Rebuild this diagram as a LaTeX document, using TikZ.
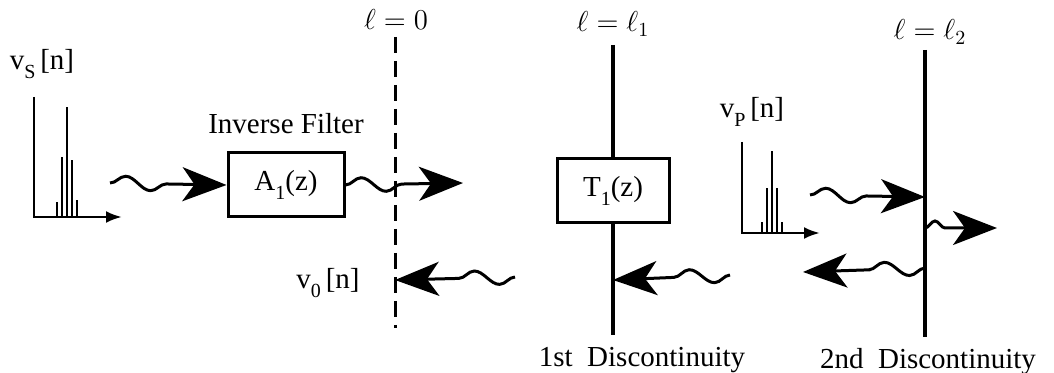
\documentclass[tikz,border=0pt]{standalone}
\usepackage{fontspec}
\setmainfont{Liberation Serif}
\usetikzlibrary{arrows.meta, positioning, decorations.pathmorphing}
\newcommand{\sig}[1]{v\raisebox{-0.7ex}{\normalsize #1}\,[n]}

\begin{document}
\begin{tikzpicture}[x=0.5pt, y=-0.5pt,
      every node/.style={font=\fontsize{14.5}{17}\selectfont, inner sep=1pt},
      blk/.style={draw, fill=white, line width=1.5pt, minimum width=58pt,
                  minimum height=32pt, inner sep=2pt},
      axis/.style={line width=1.4pt, -{Latex[length=8pt, width=6pt]}},
      spike/.style={line width=1.2pt},
      wave/.style={line width=1.5pt, decorate,
                   decoration={snake, amplitude=3.5pt, segment length=25pt, post length=22pt},
                   -{Stealth[length=22pt, width=17pt, inset=6pt]}},
      disc/.style={line width=2pt}]
    \useasboundingbox (0,0) rectangle (1054,373);

    % source signal
    \node (vs) at (42,64) {\sig{S}};
    \draw[axis] (34,97) |- (122,217);
    \foreach \x/\h in {57/202, 62/157, 67/107, 72/160, 77/200}
      \draw[spike] (\x,217) -- (\x,\h);

    % reference plane l = 0
    \coordinate (z0top) at (395,37);
    \coordinate (z0bot) at (395,328);
    \draw[line width=1.5pt, dash pattern=on 8pt off 4pt] (z0top) -- (z0bot);
    \node (l0) at (396,20) {$\ell = 0$};

    % discontinuities
    \coordinate (d1top) at (613,45);
    \coordinate (d1bot) at (613,335);
    \coordinate (d2top) at (925,50);
    \coordinate (d2bot) at (925,337);
    \draw[disc] (d1top) -- (d1bot);
    \draw[disc] (d2top) -- (d2bot);
    \node (l1) at (613,24) {$\ell = \ell_1$};
    \node (l2) at (930,32) {$\ell = \ell_2$};
    \node (n1) at (642,360) {1st~~Discontinuity};
    \node (n2) at (928,362) {2nd~~Discontinuity};

    % filter blocks
    \node[blk] (a1) at (286,185) {A\raisebox{-0.7ex}{\normalsize 1}(z)};
    \node (inv) at (286,124) {Inverse Filter};
    \node[blk, minimum width=56pt] (t1) at (613,191) {T\raisebox{-0.7ex}{\normalsize 1}(z)};
    \node (v0) at (328,283) {\sig{0}};

    % signal at the second discontinuity
    \node (vp) at (752,112) {\sig{P}};
    \draw[axis] (742,142) |- (820,233);
    \foreach \x/\h in {762/222, 767/188, 772/151, 777/188, 782/222}
      \draw[spike] (\x,233) -- (\x,\h);

    % waves
    \coordinate (w1) at (110,183);
    \coordinate (w2) at (463,183);
    \coordinate (w3) at (515,277);
    \coordinate (h3) at (395,280);
    \coordinate (w4) at (730,275);
    \coordinate (h4) at (613,280);
    \coordinate (w5) at (810,195);
    \coordinate (h5) at (925,197);
    \coordinate (w6) at (925,228);
    \coordinate (h6) at (997,228);
    \coordinate (w7) at (925,268);
    \coordinate (h7) at (803,272);
    \draw[wave] (w1) -- (a1.west);
    \draw[wave] (a1.east) -- (w2);
    \draw[wave] (w3) -- (h3);
    \draw[wave] (w4) -- (h4);
    \draw[wave] (w5) -- (h5);
    \draw[wave, decoration={snake, amplitude=3.5pt, segment length=16pt, post length=20pt}] (w6) -- (h6);
    \draw[wave] (w7) -- (h7);
  \end{tikzpicture}
\end{document}
